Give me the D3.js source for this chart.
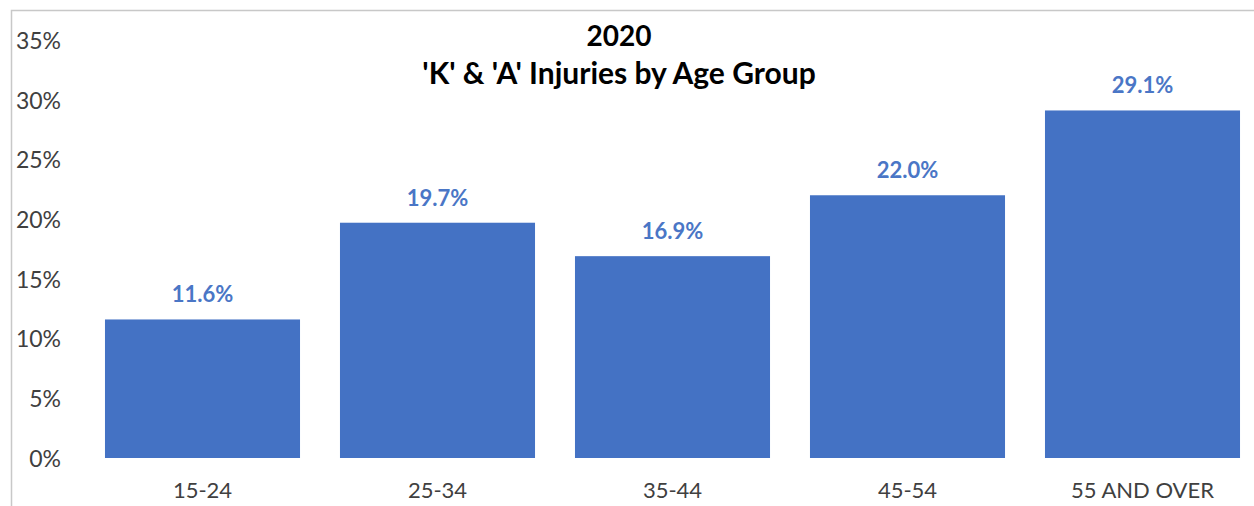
<!DOCTYPE html>
<html>
<head>
<meta charset="utf-8">
<script src="https://cdn.jsdelivr.net/npm/d3@7"></script>
<style>
  body { margin: 0; background: #fff; }
  text { font-family: Lato, "Open Sans", sans-serif; }
</style>
</head>
<body>
<svg id="chart" width="1254" height="506"></svg>
<script>
var categories = ["15-24", "25-34", "35-44", "45-54", "55 AND OVER"];
var values = [11.6, 19.7, 16.9, 22.0, 29.1];
var yTicks = [0, 5, 10, 15, 20, 25, 30, 35];
var titleLines = ["2020", "'K' & 'A' Injuries by Age Group"];

(function barChart() {
    var svg = d3.select("#chart"),
        width = +svg.attr("width"),
        height = +svg.attr("height");

    // chart area border (cut off at right / bottom)
    svg.append("rect")
       .attr("x", 11.5).attr("y", 10.5)
       .attr("width", width + 20).attr("height", height + 20)
       .attr("fill", "none")
       .attr("stroke", "#c8c8c8")
       .attr("stroke-width", 1.5);

    var x = d3.scaleBand()
              .domain(categories)
              .range([85, 1260])
              .paddingInner(0.17)
              .paddingOuter(0.085);

    var y = d3.scaleLinear()
              .domain([0, 35])
              .range([458, 40]);

    var g = svg.append("g");

    g.selectAll(".bar")
     .data(values)
     .enter().append("rect")
     .attr("class", "bar")
     .attr("x", function(d, i) { return x(categories[i]); })
     .attr("width", x.bandwidth())
     .attr("y", function(d) { return y(d); })
     .attr("height", function(d) { return y(0) - y(d); })
     .attr("fill", "#4472c4");

    g.selectAll(".val")
     .data(values)
     .enter().append("text")
     .attr("class", "val")
     .attr("x", function(d, i) { return x(categories[i]) + x.bandwidth() / 2; })
     .attr("y", function(d) { return y(d) - 17; })
     .attr("text-anchor", "middle")
     .attr("font-size", "22px")
     .attr("font-weight", "bold")
     .attr("fill", "#4a76c6")
     .text(function(d) { return d.toFixed(1) + "%"; });

    // y axis labels only, no line
    var yAxis = d3.axisLeft(y).tickValues(yTicks)
                  .tickFormat(function(d) { return d + "%"; })
                  .tickSize(0).tickPadding(0);
    var ya = svg.append("g").attr("transform", "translate(61,1)").call(yAxis);
    ya.select(".domain").remove();
    ya.selectAll("text")
      .attr("font-family", "Lato, 'Open Sans', sans-serif")
      .attr("font-size", "23px")
      .attr("fill", "#404040");

    var xAxis = d3.axisBottom(x).tickSize(0).tickPadding(0);
    var xa = svg.append("g").attr("transform", "translate(0,482)").call(xAxis);
    xa.select(".domain").remove();
    xa.selectAll("text")
      .attr("font-family", "Lato, 'Open Sans', sans-serif")
      .attr("font-size", "22px")
      .attr("fill", "#404040");

    svg.selectAll(".title")
       .data(titleLines)
       .enter().append("text")
       .attr("class", "title")
       .attr("x", 619)
       .attr("y", function(d, i) { return i === 0 ? 46 : 84; })
       .attr("text-anchor", "middle")
       .attr("font-size", function(d, i) { return i === 0 ? "28px" : "30px"; })
       .attr("font-weight", "bold")
       .attr("fill", "#000")
       .text(function(d) { return d; });
}());
</script>
</body>
</html>
